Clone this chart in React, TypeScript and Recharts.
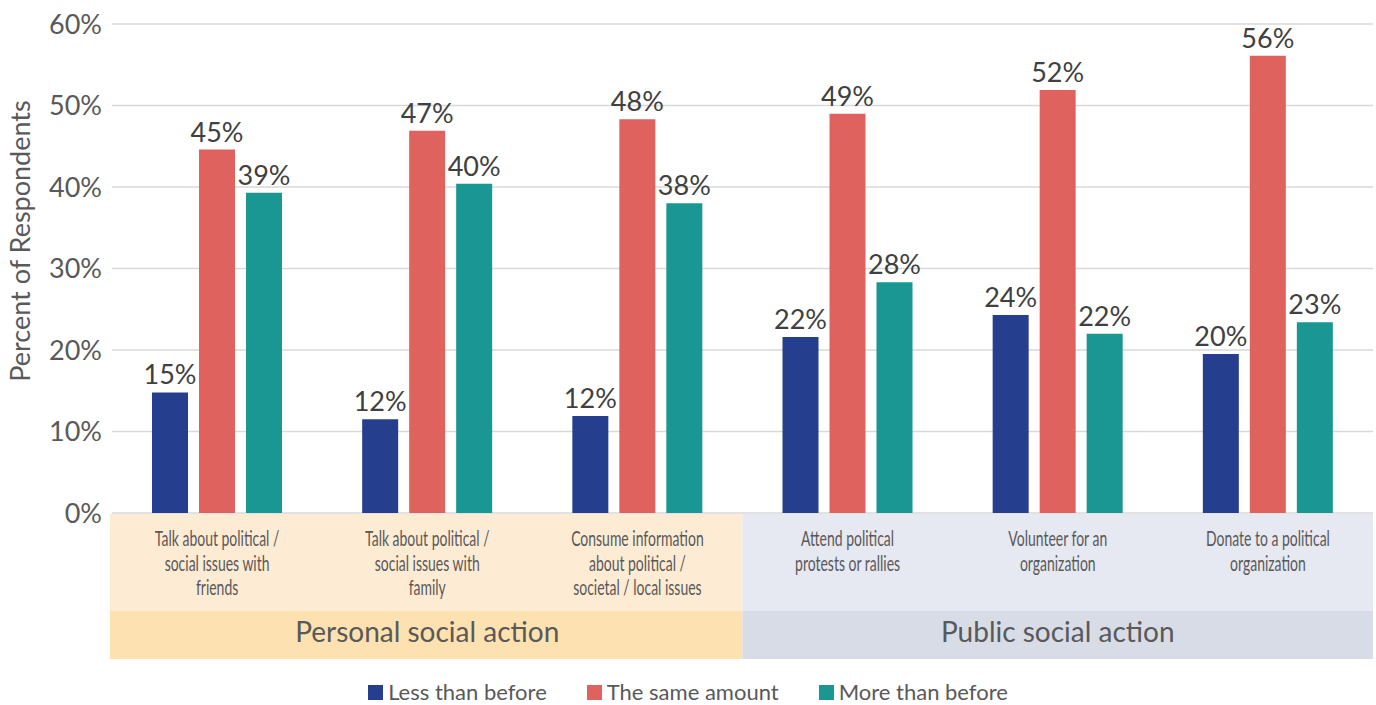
import React from 'react';
import { BarChart, Bar, XAxis, YAxis, CartesianGrid, LabelList } from 'recharts';

const categories = [
  'Talk about political /\nsocial issues with\nfriends',
  'Talk about political /\nsocial issues with\nfamily',
  'Consume information\nabout political /\nsocietal / local issues',
  'Attend political\nprotests or rallies',
  'Volunteer for an\norganization',
  'Donate to a political\norganization',
];
const groups = ['Personal social action', 'Public social action'];
const lessThanBefore = [14.8, 11.5, 11.9, 21.6, 24.3, 19.5];
const sameAmount = [44.6, 46.9, 48.3, 49.0, 51.9, 56.1];
const moreThanBefore = [39.3, 40.4, 38.0, 28.3, 22.0, 23.4];
const seriesNames = ['Less than before', 'The same amount', 'More than before'];
const seriesColors = ['#253F8E', '#E0625F', '#1A9693'];
const yTicks = [0, 10, 20, 30, 40, 50, 60];

const data = categories.map((cat, i) => ({
  cat,
  less: lessThanBefore[i],
  same: sameAmount[i],
  more: moreThanBefore[i],
}));

const W = 1376;
const H = 705;
const PLOT_LEFT = 112;
const PLOT_RIGHT = 1373;
const BW = (PLOT_RIGHT - PLOT_LEFT) / categories.length;
const LIGHT = ['#FDEBD3', '#E6E8F2'];
const DARK = ['#FDE1B1', '#D7DCE7'];
const FONT = 'Lato, "Noto Sans", sans-serif';

const CatTick = (props: any) => {
  const { x, y, payload } = props;
  const idx = payload.index;
  const g = idx < 3 ? 0 : 1;
  const lines = String(payload.value).split('\n');
  const ext = g === 0 ? 2 : 0;
  return (
    <g>
      {idx % 3 === 0 && (
        <g>
          <rect x={x - 0.5 * BW - ext} y={y + 1} width={BW * 3 + ext} height={97} fill={LIGHT[g]} />
          <rect x={x - 0.5 * BW - ext} y={y + 98} width={BW * 3 + ext} height={48} fill={DARK[g]} />
          <text
            x={x + BW}
            y={y + 122}
            dominantBaseline="middle"
            textAnchor="middle"
            fill="#595959"
            fontSize={28}
            fontFamily={FONT}
          >
            {groups[g]}
          </text>
        </g>
      )}
      <g transform={`translate(${x} 0) scale(0.65 1)`}>
        {lines.map((l, k) => (
          <text
            key={k}
            x={0}
            y={y + 28 + k * 24.5}
            dominantBaseline="middle"
            textAnchor="middle"
            fill="#595959"
            fontSize={21.5}
            fontFamily={FONT}
          >
            {l}
          </text>
        ))}
      </g>
    </g>
  );
};

const YLabel = () => {
  return (
    <text
      x={23}
      y={241}
      transform="rotate(-90 23 241)"
      textAnchor="middle"
      dominantBaseline="middle"
      fill="#595959"
      fontSize={27}
      fontFamily={FONT}
    >
      Percent of Respondents
    </text>
  );
};

const fmt = (v: any) => `${Math.round(Number(v))}%`;

export default function App() {
  const keys = ['less', 'same', 'more'];
  return (
    <div style={{ position: 'absolute', left: 0, top: 0, width: W, height: H, background: '#fff' }}>
      <BarChart
        width={W}
        height={H}
        data={data}
        margin={{ top: 24, right: W - PLOT_RIGHT, bottom: 0, left: 0 }}
        barSize={36}
        barGap={11}
        style={{ fontFamily: FONT }}
      >
        <CartesianGrid vertical={false} stroke="#D9D9D9" strokeWidth={1.5} />
        <XAxis
          dataKey="cat"
          axisLine={false}
          tickLine={false}
          tickSize={0}
          tickMargin={0}
          interval={0}
          height={192}
          tick={<CatTick />}
        />
        <YAxis
          width={PLOT_LEFT}
          domain={[0, 60]}
          ticks={yTicks}
          tickFormatter={(v: number) => `${v}%`}
          axisLine={false}
          tickLine={false}
          tickMargin={4}
          tick={{ fill: '#595959', fontSize: 27, fontFamily: FONT }}
          label={<YLabel />}
        />
        {keys.map((k, i) => (
          <Bar key={k} dataKey={k} name={seriesNames[i]} fill={seriesColors[i]} isAnimationActive={false}>
            <LabelList
              dataKey={k}
              position="top"
              offset={8}
              formatter={fmt}
              style={{ fill: '#404040', fontSize: 27, fontFamily: FONT }}
            />
          </Bar>
        ))}
      </BarChart>
      <div
        style={{
          position: 'absolute',
          top: 679,
          left: 0,
          width: W,
          display: 'flex',
          justifyContent: 'center',
          fontFamily: FONT,
          fontSize: 22,
          color: '#595959',
          lineHeight: '26px',
        }}
      >
        {seriesNames.map((n, i) => (
          <div key={n} style={{ display: 'flex', alignItems: 'center', marginLeft: i ? 40 : 0 }}>
            <span style={{ display: 'inline-block', width: 15, height: 15, background: seriesColors[i], marginRight: 5 }} />
            <span>{n}</span>
          </div>
        ))}
      </div>
    </div>
  );
}
